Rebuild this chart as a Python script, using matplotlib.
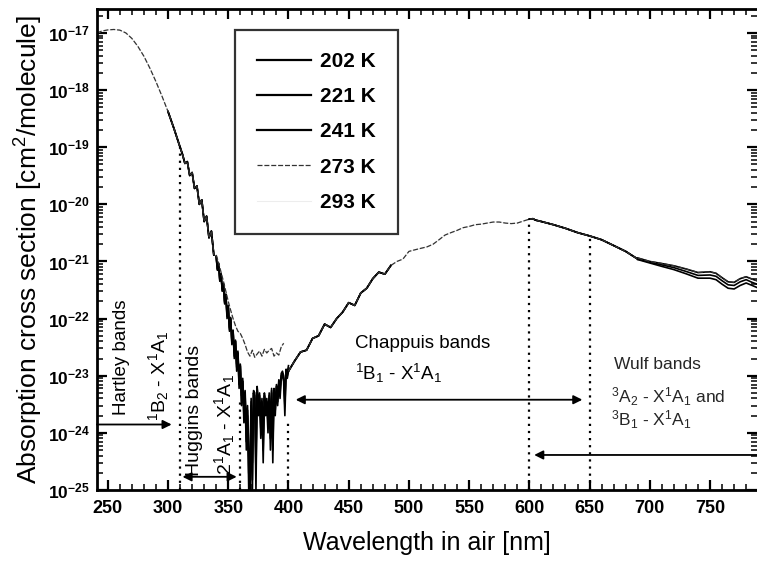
import numpy as np
import matplotlib
matplotlib.use('Agg')
import matplotlib.pyplot as plt
from matplotlib.ticker import MultipleLocator, LogLocator, NullFormatter, FixedLocator

plt.rcParams['font.family'] = 'Liberation Sans'
plt.rcParams['mathtext.fontset'] = 'custom'
plt.rcParams['mathtext.rm'] = 'Liberation Sans'
plt.rcParams['mathtext.it'] = 'Liberation Sans:italic'
plt.rcParams['mathtext.bf'] = 'Liberation Sans:bold'

# Hartley band + start of Huggins (same for all temperatures at this scale)
wl_uv = [241, 245, 250, 255, 260, 265, 270, 275, 280, 285, 290, 295, 300, 305, 310,
         312, 314, 316, 318, 320, 322, 324, 326, 328, 330, 332, 334, 336, 338]
sig_uv = [1.0e-17, 1.08e-17, 1.13e-17, 1.15e-17, 1.12e-17, 1.0e-17, 8.0e-18, 5.8e-18,
          3.9e-18, 2.4e-18, 1.4e-18, 7.8e-19, 4.2e-19, 2.1e-19, 1.0e-19,
          7.5e-20, 5.2e-20, 5.6e-20, 3.2e-20, 3.6e-20, 1.9e-20, 2.1e-20, 1.0e-20,
          1.2e-20, 5.0e-21, 6.2e-21, 2.6e-21, 3.4e-21, 1.3e-21]

# Huggins bands, 1 nm steps 340..400
wl_hug = list(range(340, 401))
hug_202 = [1.2e-21, 7e-22, 9e-22, 4.5e-22, 6e-22, 3e-22, 4e-22, 1.8e-22, 2.6e-22, 1.0e-22,
           1.6e-22, 6e-23, 1.0e-22, 3.5e-23, 6e-23, 2.0e-23, 4e-23, 1.2e-23, 2.5e-23, 6e-24,
           1.5e-23, 3e-24, 8e-24, 1.5e-24, 4e-24, 5e-25, 2e-24, 1e-25, 6e-26, 3e-24,
           8e-26, 5e-24, 4e-24, 1e-25, 6e-24, 2e-24, 4e-24, 8e-25, 3e-24, 3e-25,
           4e-24, 2e-24, 3e-24, 1e-24, 4e-24, 5e-25, 5e-24, 3e-25, 5e-24, 2e-24,
           6e-24, 3e-24, 7e-24, 4e-24, 9e-24, 1e-23, 8e-24, 2e-24, 1.1e-23, 9e-24,
           1.2e-23]
hug_221 = [1.2e-21, 7.2e-22, 9e-22, 4.6e-22, 6e-22, 3.1e-22, 4e-22, 1.9e-22, 2.6e-22, 1.1e-22,
           1.6e-22, 6.5e-23, 1.0e-22, 3.8e-23, 6e-23, 2.2e-23, 4e-23, 1.4e-23, 2.5e-23, 7e-24,
           1.5e-23, 3.5e-24, 8e-24, 2e-24, 4.5e-24, 7e-25, 2.5e-24, 2e-25, 1e-25, 3.5e-24,
           1.5e-25, 5e-24, 4.5e-24, 2e-25, 6e-24, 2.5e-24, 4.5e-24, 1.2e-24, 3.5e-24, 5e-25,
           4.5e-24, 2.5e-24, 3.5e-24, 1.5e-24, 4.5e-24, 8e-25, 5.5e-24, 5e-25, 5.5e-24, 2.5e-24,
           6.5e-24, 3.5e-24, 7.5e-24, 5e-24, 1e-23, 1.1e-23, 9e-24, 3e-24, 1.2e-23, 1e-23,
           1.3e-23]
hug_241 = [1.25e-21, 7.5e-22, 9.2e-22, 4.8e-22, 6.1e-22, 3.3e-22, 4.1e-22, 2.0e-22, 2.7e-22, 1.2e-22,
           1.7e-22, 7e-23, 1.05e-22, 4.2e-23, 6.3e-23, 2.5e-23, 4.2e-23, 1.6e-23, 2.7e-23, 9e-24,
           1.6e-23, 4.5e-24, 9e-24, 3e-24, 5.5e-24, 1.2e-24, 3e-24, 4e-25, 2.5e-25, 4e-24,
           3e-25, 5.5e-24, 5e-24, 4e-25, 6.5e-24, 3e-24, 5e-24, 1.8e-24, 4e-24, 9e-25,
           5e-24, 3e-24, 4e-24, 2e-24, 5e-24, 1.2e-24, 6e-24, 9e-25, 6e-24, 3e-24,
           7e-24, 4.5e-24, 8.5e-24, 6e-24, 1.1e-23, 1.2e-23, 1e-23, 4e-24, 1.3e-23, 1.15e-23,
           1.5e-23]
wl_hug_273 = [340, 342, 344, 346, 348, 350, 352, 354, 356, 358, 360, 362, 364, 366, 368,
              370, 372, 374, 376, 378, 380, 382, 384, 386, 388, 390, 392, 394, 396]
hug_273 = [1.3e-21, 9.5e-22, 6.5e-22, 4.5e-22, 3.0e-22, 2.0e-22, 1.4e-22, 1.0e-22, 7.5e-23,
           6.0e-23, 5.5e-23, 4.5e-23, 3.5e-23, 2.6e-23, 2.2e-23, 2.8e-23, 2.1e-23, 2.4e-23,
           2.7e-23, 2.2e-23, 2.9e-23, 2.5e-23, 2.8e-23, 3.0e-23, 2.2e-23, 2.5e-23, 2.3e-23,
           3.2e-23, 3.7e-23]

# Chappuis band
wl_vis = [400, 405, 410, 415, 420, 425, 430, 435, 440, 445, 450, 455, 460, 465, 470, 475,
          480, 485, 490, 495, 500, 505, 510, 515, 520, 525, 530, 535, 540, 545, 550, 555,
          560, 565, 570, 575, 580, 585, 590, 595, 600, 603, 605, 610, 620, 630, 640, 650,
          660, 670, 680, 690]
sig_vis = [1.2e-23, 1.8e-23, 2.6e-23, 2.8e-23, 4.5e-23, 5.0e-23, 8.0e-23, 7.0e-23, 1.0e-22,
           1.3e-22, 1.9e-22, 1.7e-22, 2.8e-22, 3.4e-22, 5.0e-22, 6.5e-22, 6.0e-22, 8.5e-22,
           1.0e-21, 1.1e-21, 1.5e-21, 1.6e-21, 1.7e-21, 1.8e-21, 2.0e-21, 2.4e-21, 2.9e-21,
           3.2e-21, 3.5e-21, 3.9e-21, 4.1e-21, 4.4e-21, 4.5e-21, 4.7e-21, 4.9e-21, 4.9e-21,
           4.7e-21, 4.6e-21, 4.7e-21, 5.1e-21, 5.5e-21, 5.6e-21, 5.3e-21, 5.0e-21, 4.4e-21,
           3.8e-21, 3.2e-21, 2.8e-21, 2.4e-21, 1.9e-21, 1.5e-21, 1.1e-21]

# Wulf region, curves split by temperature
wl_nir = [690, 700, 710, 720, 730, 740, 750, 755, 760, 765, 770, 775, 780, 785, 789]
nir_241 = [1.15e-21, 1.0e-21, 9.2e-22, 8.4e-22, 7.4e-22, 6.4e-22, 6.6e-22, 6.2e-22, 5.2e-22,
           4.4e-22, 4.3e-22, 5.0e-22, 5.4e-22, 4.9e-22, 4.6e-22]
nir_221 = [1.1e-21, 9.7e-22, 8.7e-22, 7.8e-22, 6.7e-22, 5.7e-22, 5.8e-22, 5.5e-22, 4.6e-22,
           3.9e-22, 3.8e-22, 4.4e-22, 4.8e-22, 4.3e-22, 4.0e-22]
nir_202 = [1.08e-21, 9.4e-22, 8.2e-22, 7.2e-22, 6.1e-22, 5.1e-22, 5.1e-22, 4.8e-22, 4.0e-22,
           3.4e-22, 3.3e-22, 3.8e-22, 4.2e-22, 3.8e-22, 3.5e-22]

temps = ['202 K', '221 K', '241 K', '273 K', '293 K']
x_ticks = [250, 300, 350, 400, 450, 500, 550, 600, 650, 700, 750]
y_ticks = [1e-25, 1e-24, 1e-23, 1e-22, 1e-21, 1e-20, 1e-19, 1e-18, 1e-17]

wl_uv = np.array(wl_uv); sig_uv = np.array(sig_uv)
wl_vis = np.array(wl_vis); sig_vis = np.array(sig_vis)

fig = plt.figure(figsize=(7.57, 5.63), dpi=100)
ax = fig.add_axes([0.1281, 0.1297, 0.8719, 0.8544])

# 293 K barely printed
st293 = dict(color='0.93', lw=0.8)
ax.plot(wl_uv, sig_uv, label=temps[4], **st293)
ax.plot(wl_hug_273, hug_273, **st293)
ax.plot(wl_vis, sig_vis, **st293)
ax.plot(wl_nir, nir_241, **st293)

# cold temperatures
uvm = wl_uv >= 300
vm1 = wl_vis <= 485
vm2 = wl_vis >= 600
for lab, hug, nir in [(temps[0], hug_202, nir_202), (temps[1], hug_221, nir_221),
                      (temps[2], hug_241, nir_241)]:
    st = dict(color='black', lw=1.2)
    ax.plot(wl_uv[uvm], sig_uv[uvm], label=lab, **st)
    ax.plot(wl_hug, hug, **st)
    ax.plot(wl_vis[vm1], sig_vis[vm1], **st)
    ax.plot(wl_vis[vm2], sig_vis[vm2], **st)
    ax.plot(wl_nir, nir, **st)

# 273 K thin dashed
st273 = dict(color='0.2', lw=0.9, dashes=(4, 1.5))
ax.plot(wl_uv, sig_uv, label=temps[3], **st273)
ax.plot(wl_hug_273, hug_273, **st273)
ax.plot(wl_vis, sig_vis, **st273)
ax.plot(wl_nir, nir_241, **st273)

ax.set_yscale('log')
ax.set_xlim(241, 789)
ax.set_ylim(1e-25, 10 ** -16.58)
ax.set_xticks(x_ticks)
ax.xaxis.set_minor_locator(MultipleLocator(10))
ax.yaxis.set_major_locator(FixedLocator(y_ticks))
ax.yaxis.set_minor_locator(LogLocator(base=10, subs=np.arange(2, 10), numticks=20))
ax.yaxis.set_minor_formatter(NullFormatter())
ax.set_yticklabels([r'$\mathbf{10^{%d}}$' % int(round(np.log10(v))) for v in y_ticks])
ax.tick_params(which='both', direction='in', top=True, right=True)
ax.tick_params(which='major', length=7, width=1.6)
ax.tick_params(which='minor', length=4, width=1.1)
ax.tick_params(axis='x', labelsize=13, pad=7)
ax.tick_params(axis='y', labelsize=12.5, pad=5)
for t in ax.get_xticklabels():
    t.set_fontweight('bold')
for s in ['left', 'bottom', 'top']:
    ax.spines[s].set_linewidth(2.0)
ax.spines['right'].set_visible(False)

ax.set_xlabel('Wavelength in air [nm]', fontsize=18, labelpad=10)
ax.set_ylabel('Absorption cross section [cm$^2$/molecule]', fontsize=19, labelpad=2)

# legend in order 202..293
h, l = ax.get_legend_handles_labels()
order = [l.index(t) for t in temps]
leg = ax.legend([h[i] for i in order], [l[i] for i in order], loc='upper left',
                bbox_to_anchor=(0.209, 0.956), fontsize=15, frameon=True, fancybox=False,
                edgecolor='black', handlelength=2.6, handletextpad=0.45, labelspacing=0.78,
                borderpad=1.05, borderaxespad=0)
leg.get_frame().set_linewidth(1.6)
for t in leg.get_texts():
    t.set_fontweight('bold')
for ln in leg.get_lines()[:3]:
    ln.set_linewidth(1.6)

# band borders
vl = dict(color='black', lw=1.6, ls=(0, (1, 2.2)))
ax.plot([310, 310], [1e-25, 1e-19], **vl)
ax.plot([360, 360], [1e-25, 4e-24], **vl)
ax.plot([400, 400], [1e-25, 1.5e-24], **vl)
ax.plot([600, 600], [1e-25, 5.5e-21], **vl)
ax.plot([650, 650], [1e-25, 2.8e-21], **vl)

# arrows
ap = dict(arrowstyle='-|>', color='black', lw=1.3, mutation_scale=13, shrinkA=0, shrinkB=0)
ap2 = dict(ap, arrowstyle='<|-|>')
ax.annotate('', xy=(303, 1.4e-24), xytext=(241, 1.4e-24), arrowprops=ap)
ax.annotate('', xy=(312, 1.7e-25), xytext=(357, 1.7e-25), arrowprops=ap2)
ax.annotate('', xy=(406, 3.8e-24), xytext=(644, 3.8e-24), arrowprops=ap2)
ax.annotate('', xy=(604, 4.1e-25), xytext=(789, 4.1e-25), arrowprops=ap)

# band labels
ax.text(261, 2.1e-23, 'Hartley bands', rotation=90, ha='center', va='center', fontsize=13.5)
ax.text(292, 1.0e-23, '$^1$B$_2$ - X$^1$A$_1$', rotation=90, ha='center', va='center', fontsize=14)
ax.text(322, 2.5e-24, 'Huggins bands', rotation=90, ha='center', va='center', fontsize=14)
ax.text(347, 1.4e-24, '2$^1$A$_1$ - X$^1$A$_1$', rotation=90, ha='center', va='center', fontsize=14)
ax.text(455, 3.7e-23, 'Chappuis bands', ha='left', va='center', fontsize=13.5)
ax.text(455, 1.1e-23, '$^1$B$_1$ - X$^1$A$_1$', ha='left', va='center', fontsize=13.5)
ax.text(670, 1.55e-23, 'Wulf bands', ha='left', va='center', fontsize=12.5, color='0.15')
ax.text(668, 4.3e-24, '$^3$A$_2$ - X$^1$A$_1$ and', ha='left', va='center', fontsize=12.5, color='0.15')
ax.text(668, 1.7e-24, '$^3$B$_1$ - X$^1$A$_1$', ha='left', va='center', fontsize=12.5, color='0.15')

fig.savefig('out.png', dpi=100)
